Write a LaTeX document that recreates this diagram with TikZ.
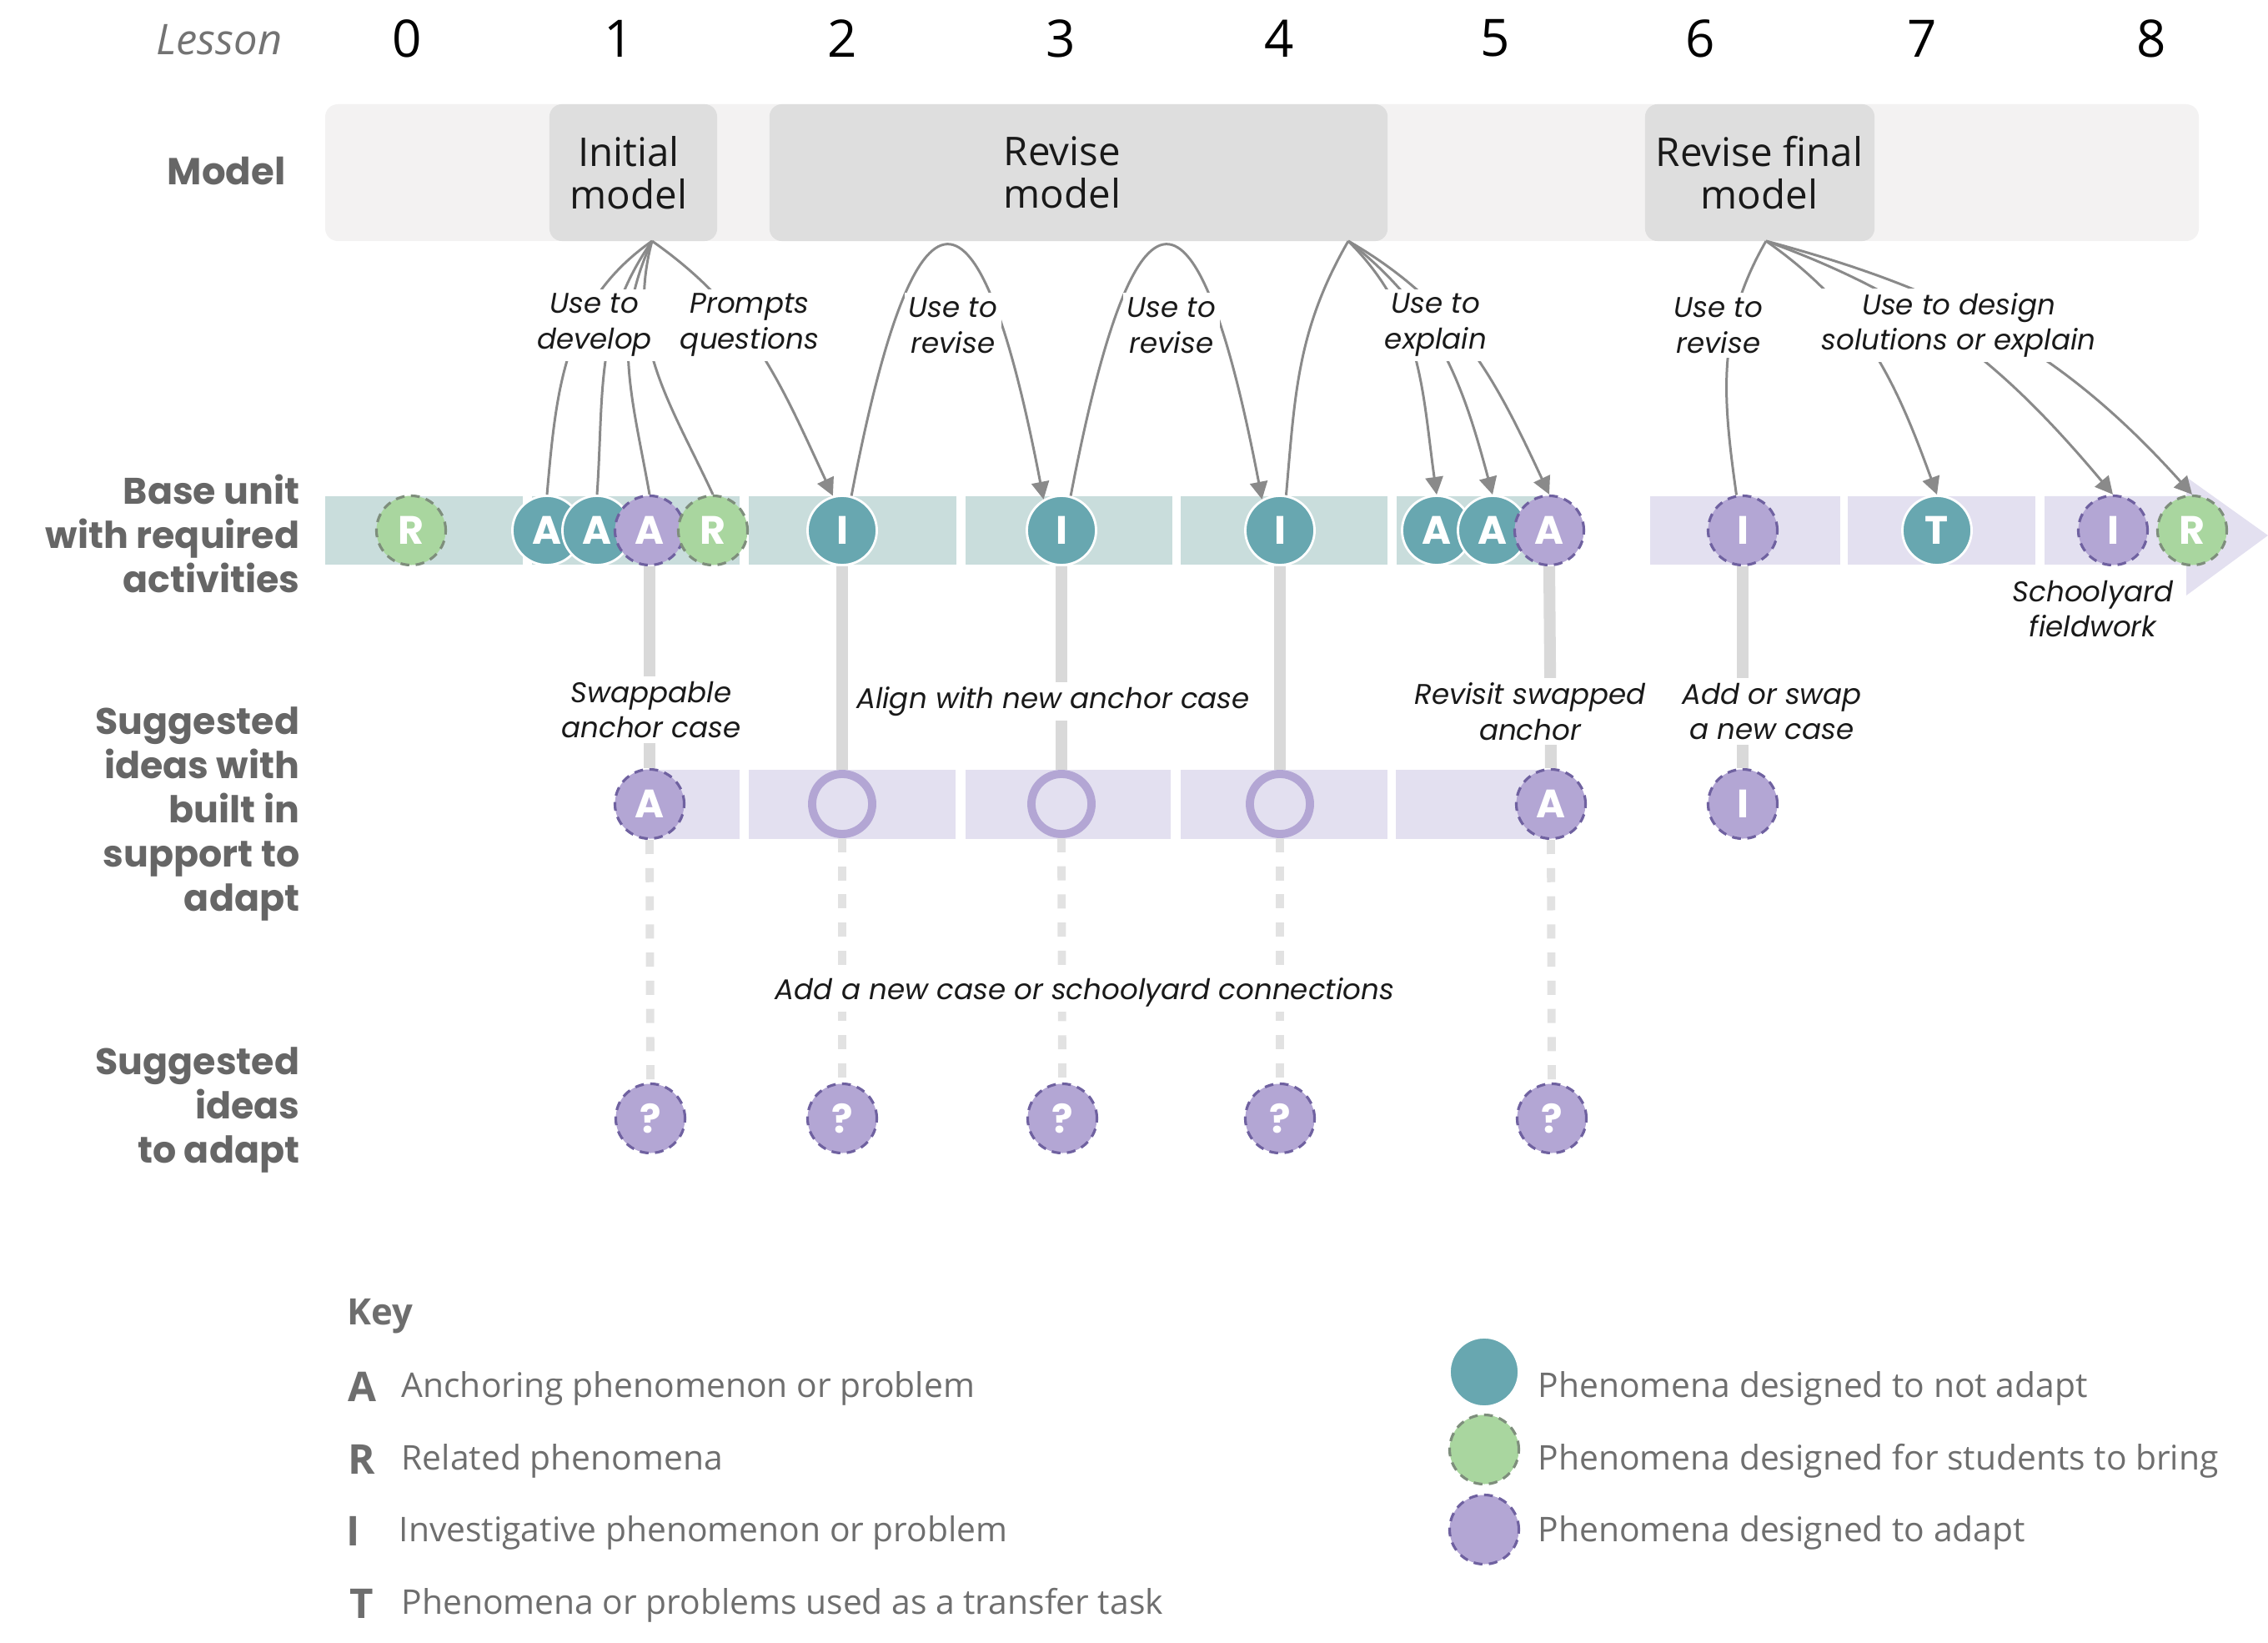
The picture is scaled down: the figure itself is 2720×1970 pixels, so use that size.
\documentclass[tikz,border=0pt]{standalone}
\usepackage{fontspec}
\setmainfont{Open Sans}
\newfontfamily\annfont{Poppins}
\newfontfamily\boldfont{Poppins}
\usetikzlibrary{arrows.meta}
\definecolor{cTeal}{HTML}{68A7B0}
\definecolor{cGreen}{HTML}{A9D69F}
\definecolor{cPurple}{HTML}{B3A6D4}
\definecolor{cPurpleD}{HTML}{6F61A0}
\definecolor{cGreenD}{HTML}{7E8E7C}
\definecolor{cBandT}{HTML}{C9DDDC}
\definecolor{cBandP}{HTML}{E3E0F0}
\definecolor{cModelBg}{HTML}{F3F2F2}
\definecolor{cModelBox}{HTML}{DEDEDE}
\definecolor{cConn}{HTML}{8A8A8A}
\definecolor{cVert}{HTML}{D9D9D9}
\definecolor{cDash}{HTML}{E2E2E2}
\definecolor{cLabel}{HTML}{666666}
\definecolor{cKey}{HTML}{6E6E6E}
\newcommand\myfs[2]{\fontsize{#1}{#2}\selectfont}
\begin{document}
\begin{tikzpicture}[x=0.01cm,y=0.01cm,
  circbase/.style={circle,minimum size=0.83cm,inner sep=0pt,text=white,font=\boldfont\bfseries\myfs{13.5}{16}},
  ctl/.style={circbase,fill=cTeal,draw=white,line width=0.8pt},
  cgr/.style={circbase,fill=cGreen,draw=cGreenD,line width=0.9pt,dash pattern=on 3pt off 2.2pt},
  cpu/.style={circbase,fill=cPurple,draw=cPurpleD,line width=0.9pt,dash pattern=on 3pt off 2.2pt},
  ringc/.style={circle,minimum size=0.72cm,inner sep=0pt,draw=cPurple,line width=2.8pt},
  conn/.style={draw=cConn,line width=0.85pt},
  arr/.style={conn,-{Triangle[length=6pt,width=6pt]}},
  vsolid/.style={draw=cVert,line width=4pt},
  vdash/.style={draw=cDash,line width=2.8pt,dash pattern=on 4.8pt off 4.8pt},
  ann/.style={font=\annfont\itshape\myfs{9.7}{12.2},align=center,fill=white,inner sep=1.5pt,text=black!90},
  rowlab/.style={anchor=east,align=right,inner sep=0pt,text=cLabel,font=\boldfont\bfseries\myfs{12.6}{15.1}},
  numlab/.style={font=\myfs{17.6}{20}},
  modtxt/.style={align=center,font=\myfs{13.5}{14.5},text=black!90},
  modbox/.style={fill=cModelBox,rounded corners=0.15cm,inner sep=0pt,minimum height=1.64cm},
  keytxt/.style={anchor=west,inner sep=0pt,text=cKey,font=\myfs{11.6}{13}},
  keylet/.style={text=cKey,font=\bfseries\myfs{14}{15}},
]
\useasboundingbox (0,0) rectangle (2720,-1970);

% ---------- header ----------
\node[anchor=east,inner sep=0pt,text=black!55,font=\itshape\myfs{14.4}{15}] (lesson) at (339,-48) {Lesson};
\foreach \n/\x in {0/488,1/742,2/1010,3/1272,4/1534,5/1793,6/2039,7/2305,8/2580}
  \node[numlab] (L\n) at (\x,-46) {\n};

% ---------- model row ----------
\node[rowlab,font=\boldfont\bfseries\myfs{12.8}{15}] (modellab) at (343,-205) {Model};
\fill[cModelBg,rounded corners=0.15cm] (390,-125) rectangle (2637,-289);
\node[modbox,minimum width=2.01cm] (im) at (759.5,-207) {};
\node[modbox,minimum width=7.41cm] (rm) at (1293.5,-207) {};
\node[modbox,minimum width=2.75cm] (rf) at (2110.5,-207) {};
\node[modtxt] (imt) at (754,-207) {Initial\\model};
\node[modtxt] (rmt) at (1274,-207) {Revise\\model};
\node[modtxt] (rft) at (2110,-207) {Revise final\\model};
\coordinate (imA) at (782,-289);
\coordinate (rmA) at (1617,-289);
\coordinate (rfA) at (2118,-289);

% ---------- row labels ----------
\node[rowlab] (baselab) at (360,-640) {Base unit\\with required\\activities};
\node[rowlab] (sug1lab) at (360,-976) {Suggested\\ideas with\\built in\\support to\\adapt};
\node[rowlab] (sug2lab) at (360,-1331) {Suggested\\ideas\\to adapt};

% ---------- bands ----------
\foreach \a/\b in {390/627,638/887,898/1147,1158/1406,1416/1664,1675/1850}
  \fill[cBandT] (\a,-595) rectangle (\b,-677);
\foreach \a/\b in {1979/2207,2216/2441}
  \fill[cBandP] (\a,-595) rectangle (\b,-677);
\fill[cBandP] (2452,-595) -- (2622,-595) -- (2622,-572) -- (2720,-642) -- (2622,-714) -- (2622,-677) -- (2452,-677) -- cycle;
\foreach \a/\b in {779/887,898/1146,1158/1404,1416/1664,1674/1860}
  \fill[cBandP] (\a,-923) rectangle (\b,-1006);

% ---------- base circles ----------
\node[cgr] (R0) at (493,-636) {R};
\node[ctl] (A1a) at (656,-636) {A};
\node[ctl] (A1b) at (716,-636) {A};
\node[cpu] (A1c) at (779,-636) {A};
\node[cgr] (R1) at (855,-636) {R};
\node[ctl] (I2) at (1010,-636) {I};
\node[ctl] (I3) at (1273,-636) {I};
\node[ctl] (I4) at (1535,-636) {I};
\node[ctl] (A5a) at (1723,-636) {A};
\node[ctl] (A5b) at (1790,-636) {A};
\node[cpu] (A5c) at (1858,-636) {A};
\node[cpu] (I6) at (2090,-636) {I};
\node[ctl] (T7) at (2323,-636) {T};
\node[cpu] (I8) at (2534,-636) {I};
\node[cgr] (R8) at (2629,-636) {R};

% ---------- suggested circles ----------
\node[cpu] (SA1) at (779,-964) {A};
\node[ringc] (S2) at (1010,-964) {};
\node[ringc] (S3) at (1273,-964) {};
\node[ringc] (S4) at (1535,-964) {};
\node[cpu] (SA5) at (1860,-964) {A};
\node[cpu] (SI6) at (2090,-964) {I};

\node[cpu] (Q1) at (780,-1341) {?};
\node[cpu] (Q2) at (1010,-1341) {?};
\node[cpu] (Q3) at (1274,-1341) {?};
\node[cpu] (Q4) at (1535,-1341) {?};
\node[cpu] (Q5) at (1861,-1341) {?};

% ---------- vertical connectors ----------
\draw[vsolid] (A1c.south) -- (SA1.north);
\draw[vsolid] (I2.south) -- (S2.north);
\draw[vsolid] (I3.south) -- (S3.north);
\draw[vsolid] (I4.south) -- (S4.north);
\draw[vsolid] (A5c.south) -- (SA5.north);
\draw[vsolid] (I6.south) -- (SI6.north);
\draw[vdash] (SA1.south) -- (Q1.north);
\draw[vdash] (S2.south) -- (Q2.north);
\draw[vdash] (S3.south) -- (Q3.north);
\draw[vdash] (S4.south) -- (Q4.north);
\draw[vdash] (SA5.south) -- (Q5.north);

% ---------- model connectors ----------
\draw[conn] (imA) to[out=215,in=85] (A1a.north);
\draw[conn] (imA) to[out=235,in=86] (A1b.north);
\draw[conn] (imA) to[out=245,in=100] (A1c.north);
\draw[conn] (imA) to[out=255,in=115] (R1.north);
\draw[arr] (imA) to[out=-35,in=115] (I2.105);
\draw[arr] (I2.75) .. controls +(77,402) and +(-77,402) .. (I3.120);
\draw[arr] (I3.75) .. controls +(77,402) and +(-77,402) .. (I4.120);
\draw[conn] (I4.80) to[out=85,in=240] (rmA);
\draw[arr] (rmA) to[out=-45,in=98] (A5a.north);
\draw[arr] (rmA) to[out=-38,in=105] (A5b.north);
\draw[arr] (rmA) to[out=-30,in=115] (A5c.north);
\draw[conn] (I6.100) to[out=98,in=240] (rfA);
\draw[arr] (rfA) to[out=-35,in=110] (T7.north);
\draw[arr] (rfA) to[out=-20,in=130] (I8.north);
\draw[arr] (rfA) to[out=-15,in=132] (R8.north);

% ---------- annotations ----------
\node[ann] (t1) at (713,-390) {Use to\\develop};
\node[ann] (t2) at (899,-390) {Prompts\\questions};
\node[ann] (t3) at (1143,-390) {Use to\\revise};
\node[ann] (t4) at (1405,-390) {Use to\\revise};
\node[ann] (t5) at (1722,-390) {Use to\\explain};
\node[ann] (t6) at (2061,-390) {Use to\\revise};
\node[ann] (t7) at (2349,-390) {Use to design\\solutions or explain};
\node[ann,fill=none] (t8) at (2510,-730) {Schoolyard\\fieldwork};
\node[ann] (t9) at (781,-851) {Swappable\\anchor case};
\node[ann] (t10) at (1263,-841) {Align with new anchor case};
\node[ann] (t11) at (1835,-853) {Revisit swapped\\anchor};
\node[ann] (t12) at (2125,-853) {Add or swap\\a new case};
\node[ann] (t13) at (1301,-1190) {Add a new case or schoolyard connections};

% ---------- key ----------
\node[anchor=west,inner sep=0pt,text=cKey,font=\bfseries\myfs{12.4}{14}] (key) at (416,-1578) {Key};
\node[keylet] (kA) at (434,-1663) {A};
\node[keytxt] (kAt) at (481,-1665) {Anchoring phenomenon or problem};
\node[keylet] (kR) at (434,-1750) {R};
\node[keytxt] (kRt) at (481,-1752) {Related phenomena};
\node[keylet] (kI) at (424,-1836) {I};
\node[keytxt] (kIt) at (478,-1838) {Investigative phenomenon or problem};
\node[keylet] (kT) at (434,-1923) {T};
\node[keytxt] (kTt) at (481,-1925) {Phenomena or problems used as a transfer task};
\node[ctl] (kc1) at (1780,-1645) {};
\node[cgr] (kc2) at (1780,-1738) {};
\node[cpu] (kc3) at (1780,-1834) {};
\node[keytxt] (kc1t) at (1844,-1665) {Phenomena designed to not adapt};
\node[keytxt] (kc2t) at (1844,-1752) {Phenomena designed for students to bring};
\node[keytxt] (kc3t) at (1844,-1838) {Phenomena designed to adapt};
\end{tikzpicture}
\end{document}
